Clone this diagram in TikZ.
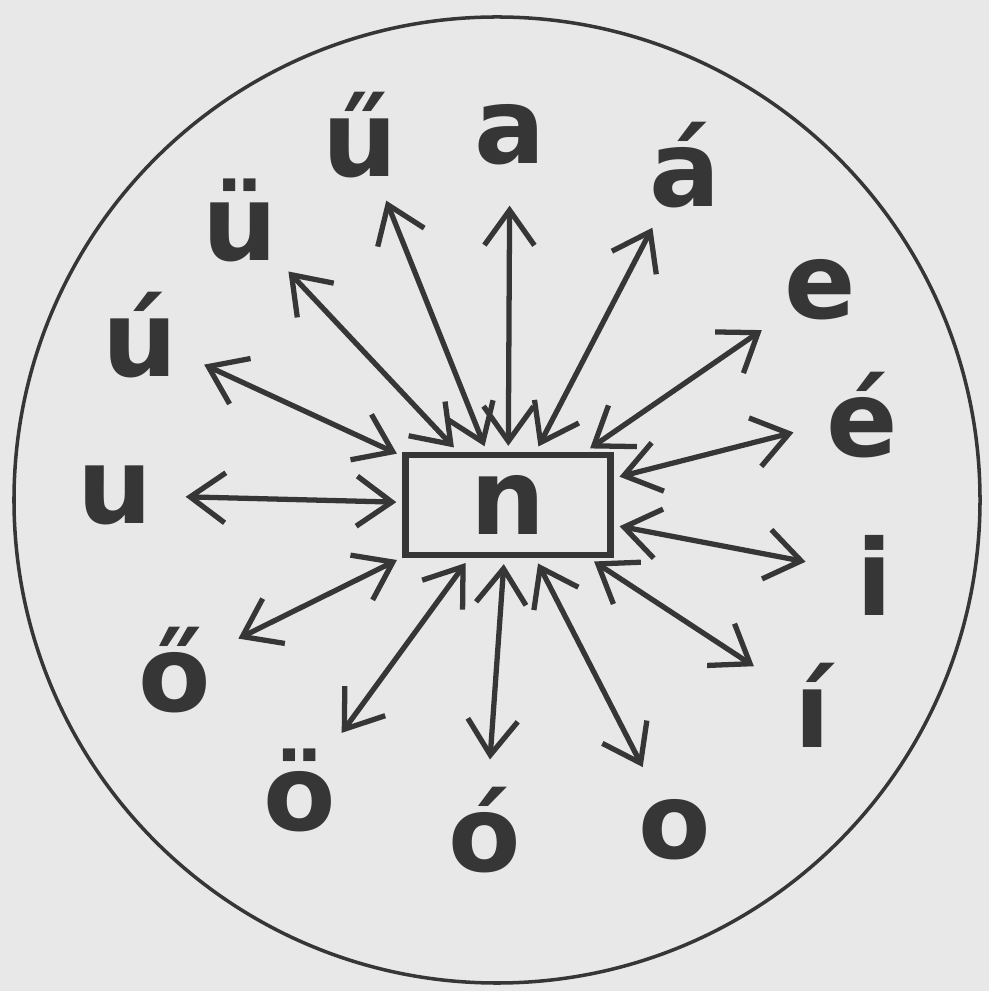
\documentclass[tikz,border=0pt]{standalone}
\usepackage{fontspec}
\setmainfont{DejaVu Sans}
\usetikzlibrary{arrows.meta}
\definecolor{ink}{HTML}{363636}
\definecolor{paper}{HTML}{E8E8E8}
\begin{document}
\begin{tikzpicture}[
  vowel/.style={circle, minimum size=1.4cm, inner sep=0pt, text=ink, font=\fontsize{30}{36}\selectfont\bfseries},
  link/.style={draw=ink, line width=1.5pt, shorten <=0.6mm, {Straight Barb[length=3.5mm,width=5mm]}-{Straight Barb[length=3.5mm,width=5mm]}}
]
\fill[paper] (-4.95,5.00) rectangle (4.94,-4.91);
\useasboundingbox (-4.95,5.00) rectangle (4.94,-4.91);
\draw[ink, line width=1pt] (0.02,0) circle (4.83);
\node[draw=ink, line width=1.8pt, minimum width=2.05cm, minimum height=1.0cm, text=ink, font=\fontsize{30}{36}\selectfont\bfseries] (n) at (0.13,-0.05) {n};
\node[vowel] (a) at (0.15,3.65) {a};
\node[vowel] (aa) at (1.90,3.35) {á};
\node[vowel] (e) at (3.25,2.10) {e};
\node[vowel] (ee) at (3.67,0.85) {é};
\node[vowel] (i) at (3.80,-0.75) {i};
\node[vowel] (ii) at (3.18,-2.05) {í};
\node[vowel] (o) at (1.80,-3.30) {o};
\node[vowel] (oo) at (-0.10,-3.30) {ó};
\node[vowel] (oe) at (-1.95,-2.90) {ö};
\node[vowel] (ooe) at (-3.20,-1.70) {ő};
\node[vowel] (u) at (-3.80,0.05) {u};
\node[vowel] (uu) at (-3.55,1.65) {ú};
\node[vowel] (ue) at (-2.55,2.80) {ü};
\node[vowel] (uue) at (-1.35,3.65) {ű};
\draw[link] (n) -- (a);
\draw[link] (n) -- (aa);
\draw[link] (n) -- (e);
\draw[link] (n) -- (ee);
\draw[link] (n) -- (i);
\draw[link] (n) -- (ii);
\draw[link] (n) -- (o);
\draw[link] (n) -- (oo);
\draw[link] (n) -- (oe);
\draw[link] (n) -- (ooe);
\draw[link] (n) -- (u);
\draw[link] (n) -- (uu);
\draw[link] (n) -- (ue);
\draw[link] (n) -- (uue);
\end{tikzpicture}
\end{document}
